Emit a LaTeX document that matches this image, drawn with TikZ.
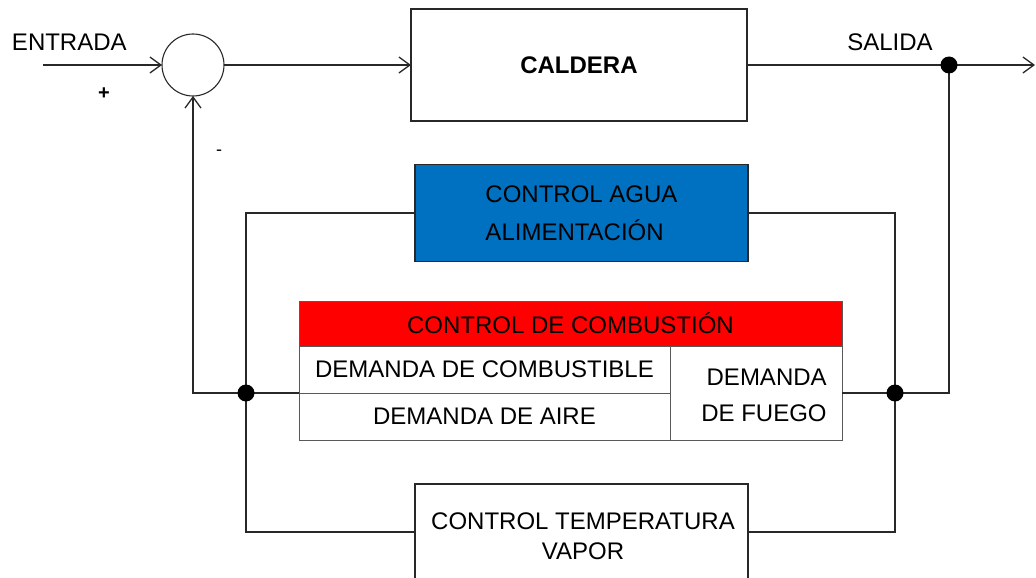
\documentclass[tikz,border=0pt]{standalone}
\usepackage{fontspec}
\setmainfont{Liberation Sans}
\usetikzlibrary{arrows.meta}
\definecolor{ctrlblue}{RGB}{0,112,192}
\definecolor{ctrlred}{RGB}{255,0,0}
\definecolor{linegray}{RGB}{40,40,40}
\begin{document}
\begin{tikzpicture}[x=1pt,y=-1pt,
  font=\fontsize{24}{30}\selectfont,
  wire/.style={draw=linegray,line width=1.3pt},
  arr/.style={wire,-{Straight Barb[length=11pt,width=16pt,line width=1.3pt]}},
  blockbox/.style={draw=linegray,line width=1.1pt,inner sep=0pt,outer sep=0pt},
  cell/.style={draw=black!65,line width=1pt,inner sep=0pt,outer sep=0pt},
  txt/.style={inner sep=0pt,outer sep=0pt},
  junction/.style={circle,fill=black,inner sep=0pt,minimum size=17pt},
  ]
\useasboundingbox (0,0) rectangle (1036,578);
\clip (0,0) rectangle (1036,578);

% blocks
\node[blockbox,minimum width=336pt,minimum height=112pt] (cald) at (579,65) {\textbf{CALDERA}};
\node[blockbox,fill=ctrlblue,minimum width=333pt,minimum height=97pt,align=left,
      font=\fontsize{24}{38}\selectfont] (agua) at (581.5,213) {CONTROL AGUA\\ALIMENTACIÓN};
\node[blockbox,minimum width=333pt,minimum height=96pt] (temp) at (581.5,532) {};
\node[txt,align=center,font=\fontsize{24}{30}\selectfont] (temptext) at (583,536) {CONTROL TEMPERATURA\\VAPOR};

% combustion table
\node[cell,fill=ctrlred,minimum width=543pt,minimum height=45pt] (head) at (570.5,323.5) {CONTROL DE COMBUSTIÓN};
\node[cell,minimum width=371pt,minimum height=47pt] (fuel) at (484.5,369.5) {DEMANDA DE COMBUSTIBLE};
\node[cell,minimum width=371pt,minimum height=47pt] (air) at (484.5,416.5) {DEMANDA DE AIRE};
\node[cell,minimum width=172pt,minimum height=94pt] (fire) at (756,393) {};
\node[txt,align=right,font=\fontsize{24}{36}\selectfont] (firetext) at (764,395) {DEMANDA\\DE FUEGO};

% summing junction
\node[circle,draw=linegray,line width=1.1pt,minimum size=62pt,inner sep=0pt,outer sep=0pt] (sum) at (193,65) {};

% labels
\node[txt,anchor=west] (entrada) at (12,42) {ENTRADA};
\node[txt,font=\fontsize{20}{20}\selectfont\bfseries] (plus) at (104,94) {+};
\node[txt,font=\fontsize{18}{18}\selectfont] (minus) at (219,153) {-};
\node[txt] (salida) at (890,42) {SALIDA};

% junction points
\coordinate (od) at (949,65);
\coordinate (rd) at (895,393);
\coordinate (ld) at (246,393);
\coordinate (in) at (43,65);
\coordinate (out) at (1035,65);

% connectors
\draw[arr] (in) -- (sum.west);
\draw[arr] (sum.east) -- (cald.west);
\draw[arr] (cald.east) -- (out);
\draw[wire] (od) |- (rd);
\draw[wire] (rd) -- (fire.east);
\draw[wire] (agua.east) -| (rd);
\draw[wire] (rd) |- (temp.east);
\draw[wire] (agua.west) -| (ld);
\draw[wire] (ld) |- (temp.west);
\draw[arr] (fuel.south west) -| (sum.south);

% dots
\node[junction] (odot) at (od) {};
\node[junction] (rdot) at (rd) {};
\node[junction] (ldot) at (ld) {};
\end{tikzpicture}
\end{document}
